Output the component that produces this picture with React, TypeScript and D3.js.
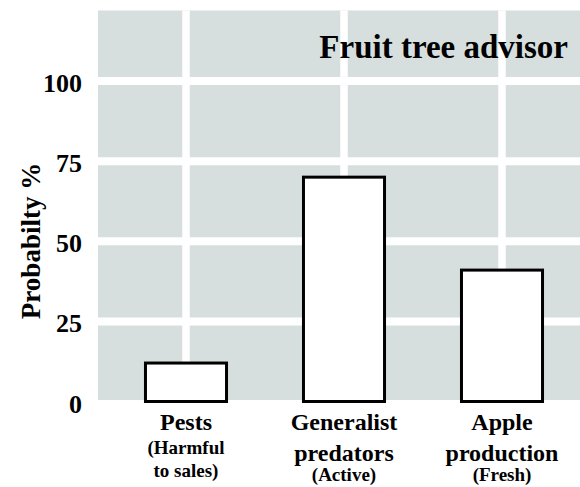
import React from 'react';
import * as d3 from 'd3';

// chart data
const categories = ['Pests', 'Generalist predators', 'Apple production'];
const probabilities = [12, 70, 41];
const labelLines = [
  ['Pests'],
  ['Generalist', 'predators'],
  ['Apple', 'production'],
];
const subLines = [
  ['(Harmful', 'to sales)'],
  ['(Active)'],
  ['(Fresh)'],
];
const yTicks = [0, 25, 50, 75, 100];
const yMax = 122;
const title = 'Fruit tree advisor';
const yLabel = 'Probabilty %';

const W = 580;
const H = 487;
const FONT = 'Liberation Serif';
const panelLeft = 98;

const x = d3.scaleBand<string>()
  .domain(categories)
  .range([107, 581])
  .paddingInner(0.487)
  .paddingOuter(0.2435);

const y = d3.scaleLinear()
  .domain([0, yMax])
  .range([401.5, 10.5]);

const T: React.FC<React.SVGProps<SVGTextElement>> = props => (
  <text fontFamily={FONT} fontWeight="bold" fill="#000" {...props} />
);

const App: React.FC = () => {
  const center = (c: string) => (x(c) as number) + x.bandwidth() / 2;

  return (
    <svg
      width={W}
      height={H}
      viewBox={`0 0 ${W} ${H}`}
      style={{ position: 'absolute', left: 0, top: 0, background: '#fff' }}
    >
      {/* grey panel */}
      <rect x={panelLeft} y={y(yMax)} width={W - panelLeft} height={y(0) - y(yMax) - 1.5} fill="#d6dfde" />

      {/* white grid */}
      {yTicks.filter(t => t > 0).map(t => (
        <line key={t} x1={panelLeft} x2={W} y1={y(t)} y2={y(t)} stroke="#fff" strokeWidth={8} />
      ))}
      {categories.map(c => (
        <line key={c} x1={center(c)} x2={center(c)} y1={y(yMax)} y2={y(0) - 1.5} stroke="#fff" strokeWidth={7.5} />
      ))}

      {/* title */}
      <T x={568} y={58} textAnchor="end" fontSize={33}>{title}</T>

      {/* bars */}
      {categories.map((c, i) => (
        <rect
          key={c}
          x={x(c)}
          width={x.bandwidth()}
          y={y(probabilities[i])}
          height={y(0) - y(probabilities[i])}
          fill="#fff"
          stroke="#000"
          strokeWidth={3}
        />
      ))}

      {/* y ticks */}
      {yTicks.map(t => (
        <T key={t} x={82} y={y(t) + 2.5} textAnchor="end" dominantBaseline="central" fontSize={26}>
          {t}
        </T>
      ))}

      {/* y label */}
      <T transform="translate(31,241) rotate(-90)" textAnchor="middle" dominantBaseline="central" fontSize={27}>
        {yLabel}
      </T>

      {/* category labels */}
      {categories.map((c, i) => {
        const cx = center(c);
        const main = labelLines[i];
        const sub = subLines[i];
        const subStart = main.length === 1 ? 454 : 481;
        return (
          <g key={c}>
            {main.map((t, j) => (
              <T key={t} x={cx} y={430 + j * 31} textAnchor="middle" fontSize={24}>{t}</T>
            ))}
            {sub.map((t, j) => (
              <T key={t} x={cx} y={subStart + j * 23} textAnchor="middle" fontSize={19}>{t}</T>
            ))}
          </g>
        );
      })}
    </svg>
  );
};

export default App;
